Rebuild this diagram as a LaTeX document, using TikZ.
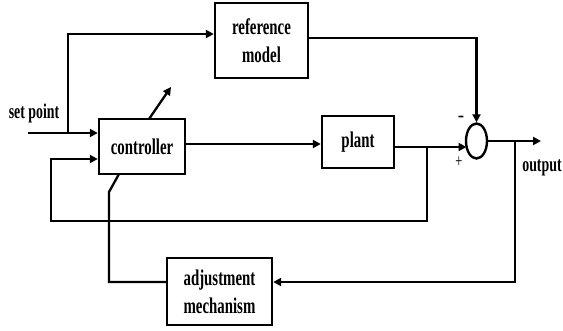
\documentclass[tikz,border=0pt]{standalone}
\usepackage{fontspec}
\setmainfont{Liberation Serif}
\newfontfamily\lblfont[FakeStretch=0.66]{Liberation Serif}
\usetikzlibrary{arrows.meta,shapes.geometric}
\begin{document}
\begin{tikzpicture}[x=1pt,y=-1pt,line width=2.3pt,
  blk/.style={draw,line width=2.4pt,inner sep=0pt,align=center,
    font=\lblfont\bfseries\fontsize{22.5}{28}\selectfont},
  lbl/.style={inner sep=0pt,font=\lblfont\bfseries\fontsize{21}{22}\selectfont},
  sgn/.style={inner sep=0pt,font=\lblfont\fontsize{19}{20}\selectfont},
  arr/.style={-{Triangle[length=8pt,width=8pt]}}]
\useasboundingbox (0,0) rectangle (563,331);
% blocks
\node[blk,minimum width=93pt,minimum height=75pt] (ref) at (261.5,40.5) {reference\\model};
\node[blk,minimum width=86pt,minimum height=55pt] (ctrl) at (142,146.5) {controller};
\node[blk,minimum width=72pt,minimum height=52pt] (plant) at (358,142) {plant};
\node[blk,minimum width=105pt,minimum height=67pt] (adj) at (219.5,291.5) {adjustment\\mechanism};
\node[draw,ellipse,line width=2.4pt,minimum width=21pt,minimum height=35pt,inner sep=0pt] (sum) at (476.5,141) {};
% labels
\node[lbl] (setpt) at (34,113) {set point};
\node[lbl] (outlbl) at (542,168) {output};
\node[sgn,font=\bfseries\fontsize{19}{20}\selectfont] (minus) at (461,119) {-};
\node[sgn] (plus) at (459,162) {+};
% coordinates
\coordinate (spin) at (28,133);
\coordinate (spb) at (68,133);
\coordinate (spt) at (68,34);
\coordinate (c2p) at (200,144);
\coordinate (po) at (400,147);
\coordinate (pb) at (427,147);
\coordinate (fb1) at (427,221);
\coordinate (fb2) at (51,221);
\coordinate (fb3) at (51,159);
\coordinate (ro) at (320,38);
\coordinate (outend) at (541,141);
\coordinate (ob) at (515,141);
\coordinate (ob2) at (515,282);
\coordinate (ai) at (109,282);
\coordinate (ab) at (109,192);
\coordinate (ac) at (119,174);
\coordinate (ta) at (149,119);
\coordinate (tb) at (171,87);
% connectors
\draw[arr] (spin) -- (spin -| ctrl.west);
\draw[arr] (spb) -- (spt) -- (spt -| ref.west);
\draw[arr] (c2p -| ctrl.east) -- (c2p -| plant.west);
\draw[arr] (po -| plant.east) -- (466.5,147);
\draw[arr] (pb) -- (fb1) -- (fb2) -- (fb3) -- (fb3 -| ctrl.west);
\draw[arr] (ro -| ref.east) -- (ro -| sum.north) -- (sum.north);
\draw[arr] (sum.east) -- (outend);
\draw[arr] (ob) -- (ob2) -- (ob2 -| adj.east);
\draw (ai -| adj.west) -- (ai) -- (ab) -- (ac);
\draw[arr] (ta) -- (tb);
\end{tikzpicture}
\end{document}
